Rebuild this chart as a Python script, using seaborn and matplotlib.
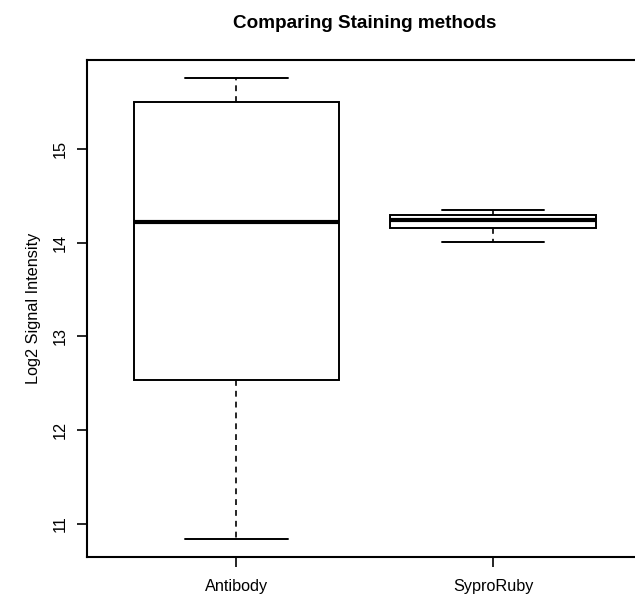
import matplotlib
matplotlib.use("Agg")
import matplotlib.pyplot as plt
import seaborn as sns
import pandas as pd

# Log2 signal intensities per staining method
methods = ["Antibody", "SyproRuby"]
antibody_values = [10.83, 12.54, 14.22, 15.51, 15.76]
syproruby_values = [14.01, 14.16, 14.25, 14.30, 14.35]
y_ticks = [11, 12, 13, 14, 15]

df = pd.DataFrame({
    "method": [methods[0]] * len(antibody_values) + [methods[1]] * len(syproruby_values),
    "value": antibody_values + syproruby_values,
})

sns.set_style("white")
plt.rcParams["font.family"] = ["Liberation Sans", "DejaVu Sans"]
plt.rcParams["text.color"] = "black"
plt.rcParams["axes.labelcolor"] = "black"

fig = plt.figure(figsize=(6.35, 5.94), dpi=100)
ax = fig.add_axes([86.7 / 635, 37.3 / 594, 556.0 / 635, 496.7 / 594])

sns.boxplot(
    data=df, x="method", y="value", order=methods, ax=ax,
    width=0.8, whis=3.0, color="white", linecolor="black", linewidth=1.4,
    fliersize=0,
    medianprops=dict(color="black", linewidth=3.0),
    whiskerprops=dict(color="black", linewidth=1.2, linestyle=(0, (3.5, 3.0))),
    capprops=dict(color="black", linewidth=1.4),
    boxprops=dict(facecolor="white", edgecolor="black", linewidth=1.4),
    capwidths=0.4,
)

ax.set_xlim(-0.583, 1.583)
ax.set_ylim(10.645, 15.957)
ax.set_yticks(y_ticks)
ax.set_yticklabels([str(t) for t in y_ticks])

for side in ["left", "bottom", "top", "right"]:
    ax.spines[side].set_visible(True)
    ax.spines[side].set_color("black")
    ax.spines[side].set_linewidth(1.5)

ax.tick_params(axis="both", direction="out", length=7, width=1.2, color="black",
               labelsize=11.7, labelcolor="black", left=True, bottom=True)
ax.tick_params(axis="y", labelrotation=90, pad=7)
ax.tick_params(axis="x", pad=9)
for lbl in ax.get_yticklabels():
    lbl.set_va("center")

ax.set_xlabel("")
ax.set_ylabel("Log2 Signal Intensity", fontsize=11.7, labelpad=8, color="black")

fig.text(364.7 / 635, 1 - 24 / 594, "Comparing Staining methods",
         ha="center", va="center", fontsize=13.6, fontweight="bold", color="black")

fig.savefig("out.png", dpi=100)
